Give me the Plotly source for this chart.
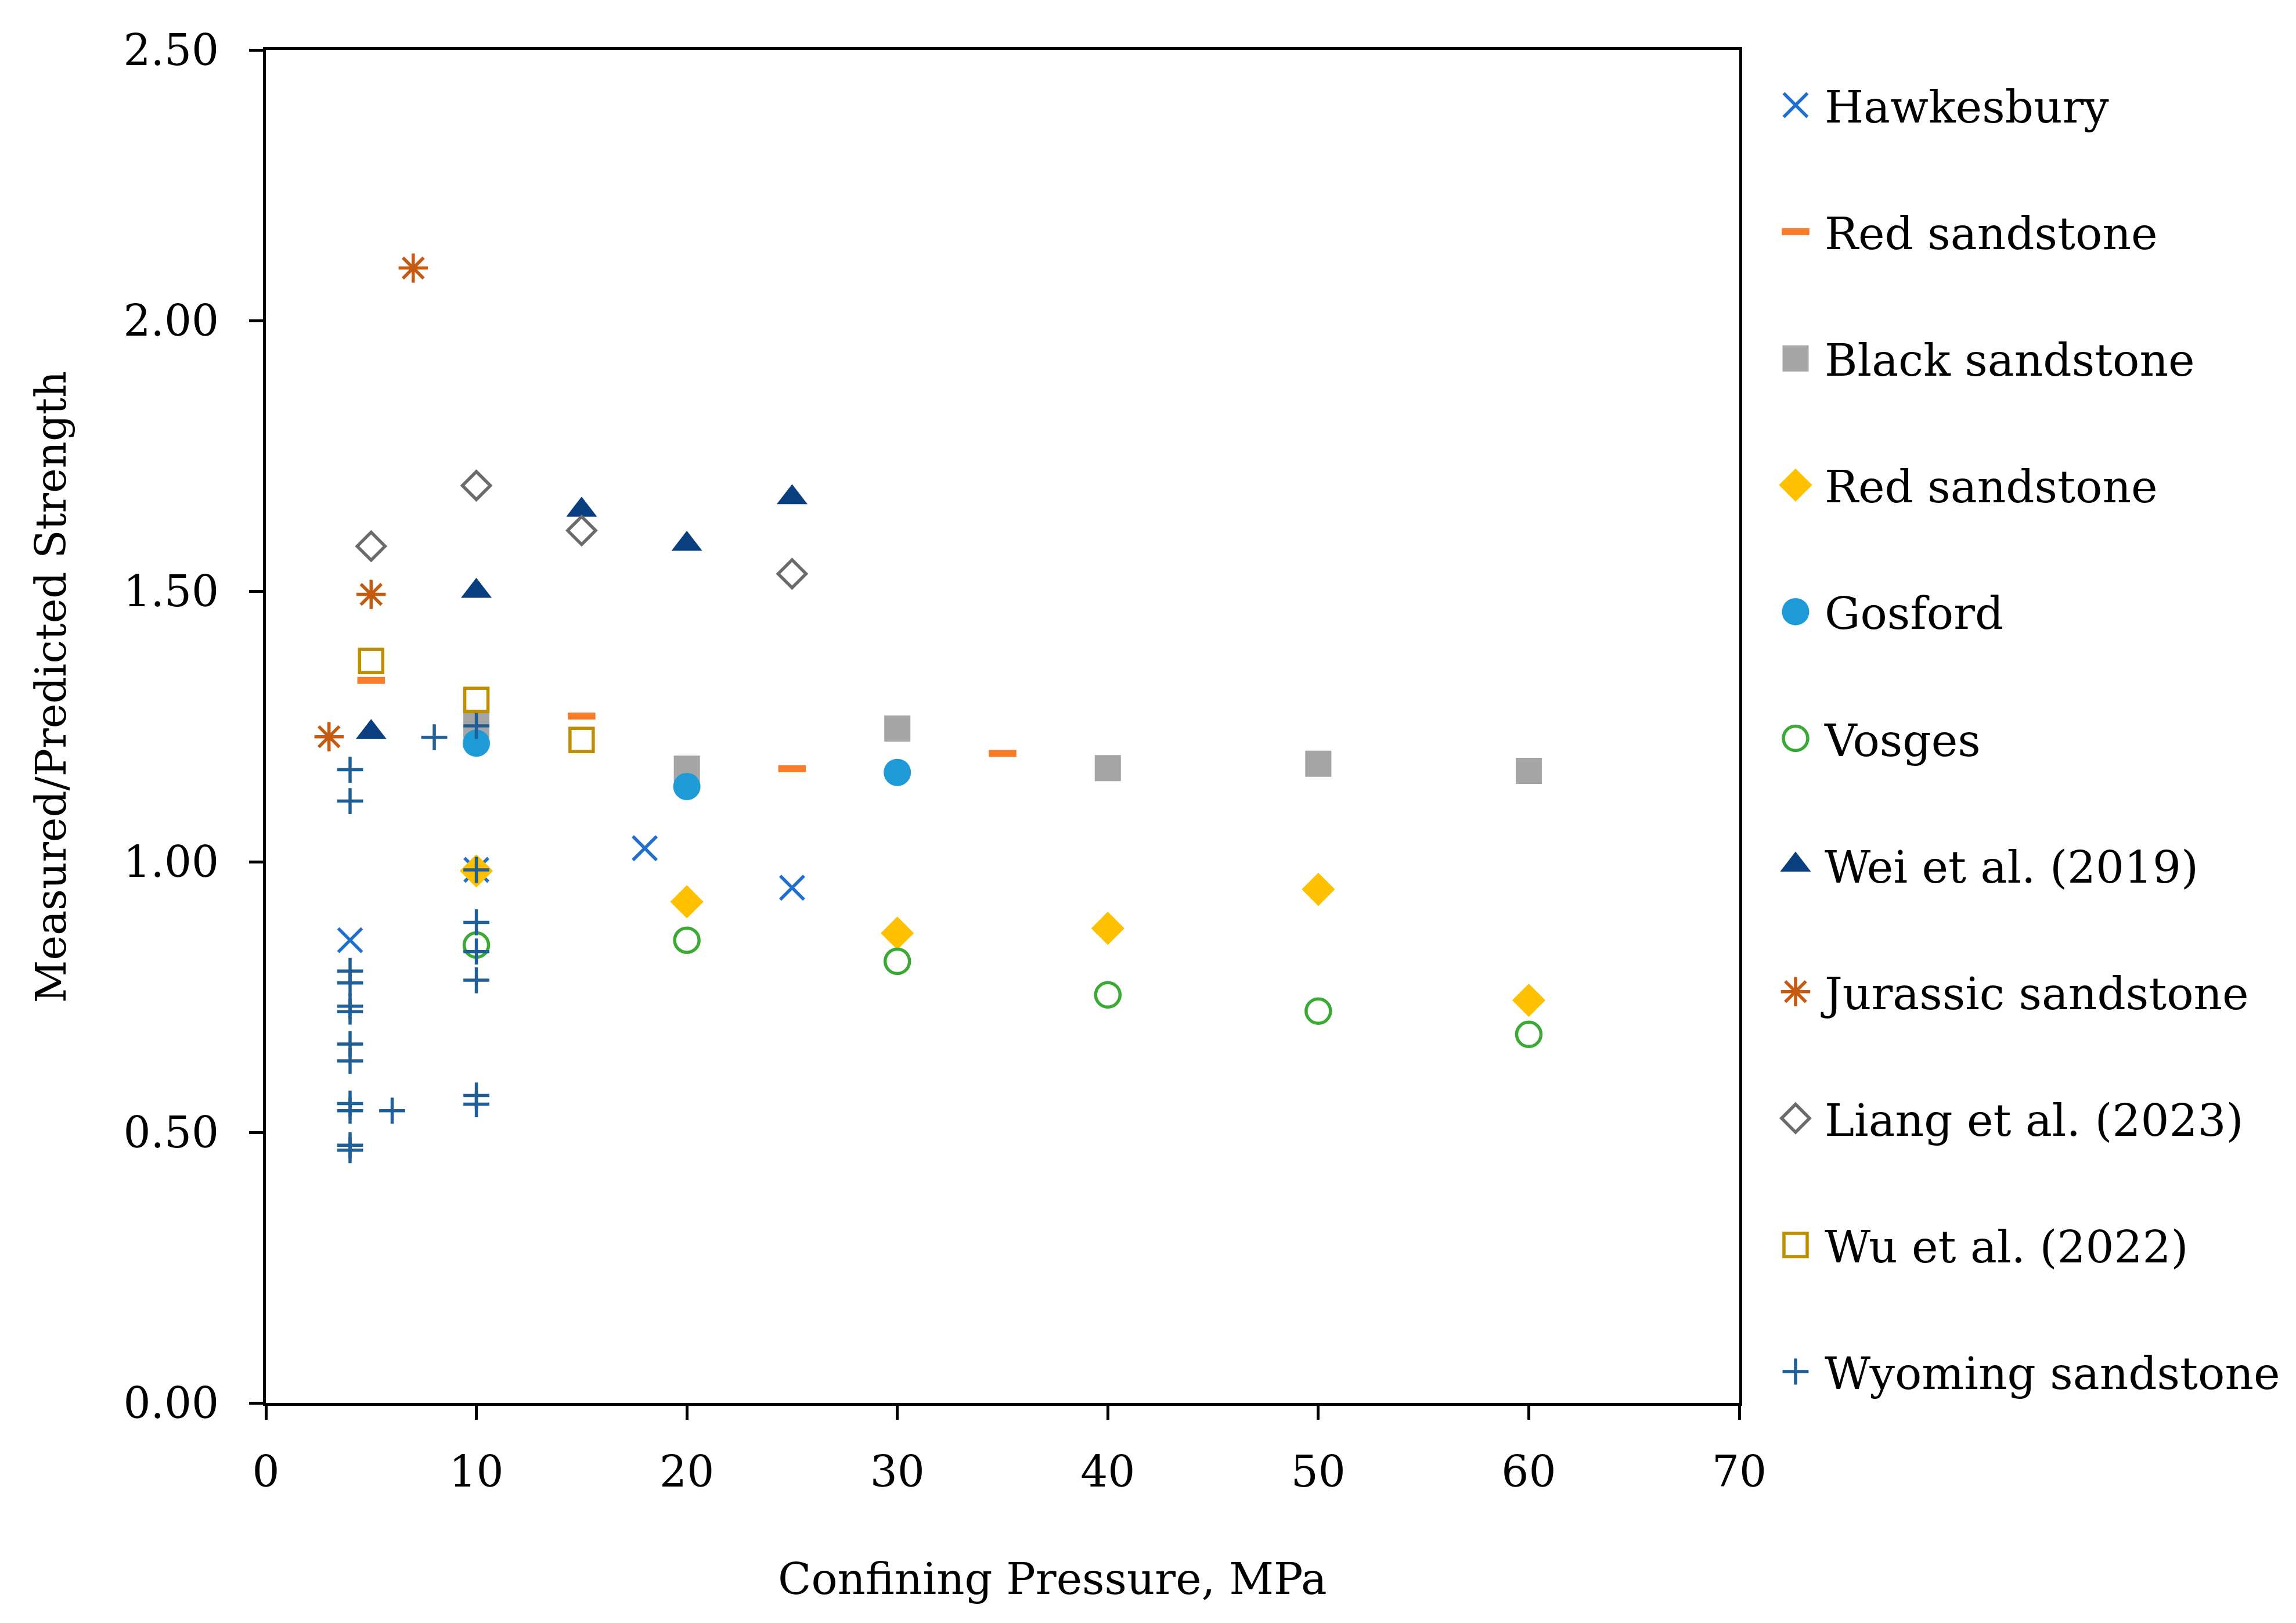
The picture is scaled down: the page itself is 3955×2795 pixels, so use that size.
import json
import plotly.graph_objects as go

# -------------------------------
# Data
# -------------------------------
hawk_x = [4, 10, 18, 25]
hawk_y = [0.855, 0.985, 1.025, 0.952]

red_x = [5, 15, 25, 35]
red_y = [1.335, 1.269, 1.172, 1.200]

black_x = [10, 20, 30, 40, 50, 60]
black_y = [1.253, 1.172, 1.246, 1.173, 1.181, 1.168]

red2_x = [10, 20, 30, 40, 50, 60]
red2_y = [0.983, 0.926, 0.868, 0.877, 0.949, 0.744]

gosford_x = [10, 20, 30]
gosford_y = [1.219, 1.139, 1.165]

vosges_x = [10, 20, 30, 40, 50, 60]
vosges_y = [0.846, 0.855, 0.816, 0.754, 0.724, 0.681]

wei_x = [5, 10, 15, 20, 25]
wei_y = [1.239, 1.500, 1.650, 1.587, 1.673]

jura_x = [3, 5, 7]
jura_y = [1.231, 1.494, 2.097]

liang_x = [5, 10, 15, 25]
liang_y = [1.583, 1.695, 1.612, 1.532]

wu_x = [5, 10, 15]
wu_y = [1.371, 1.299, 1.225]

wyo_x = [4, 4, 4, 4, 4, 4, 4, 4, 4, 4, 4, 4,
         6, 8,
         10, 10, 10, 10, 10, 10, 10]
wyo_y = [1.170, 1.112, 0.798, 0.776, 0.733, 0.723, 0.663, 0.632, 0.553, 0.540, 0.476, 0.467,
         0.540, 1.230,
         1.251, 0.985, 0.888, 0.834, 0.781, 0.568, 0.552]

x_title = "Confining Pressure, MPa"
y_title = "Measured/Predicted Strength"

# -------------------------------
# Series styles: name, x, y, symbol, colour, size, line width
# -------------------------------
series = [
    ("Hawkesbury", hawk_x, hawk_y, "x-thin-open", "#1f6fcf", 41, 5.5),
    ("Red sandstone", red_x, red_y, "line-ew-open", "#f97c2b", 34, 12),
    ("Black sandstone", black_x, black_y, "square", "#a5a5a5", 45, 0),
    ("Red sandstone ", red2_x, red2_y, "diamond", "#ffc000", 44, 0),
    ("Gosford", gosford_x, gosford_y, "circle", "#1e9bd7", 47, 0),
    ("Vosges", vosges_x, vosges_y, "circle-open", "#3aaa35", 42, 5.5),
    ("Wei et al. (2019)", wei_x, wei_y, "triangle-up", "#0a3f7f", 46, 0),
    ("Jurassic sandstone", jura_x, jura_y, "asterisk-open", "#c55a11", 42, 5.5),
    ("Liang et al. (2023)", liang_x, liang_y, "diamond-open", "#6b6b6b", 37, 5.5),
    ("Wu et al. (2022)", wu_x, wu_y, "square-open", "#bf8f00", 40, 5.5),
    ("Wyoming sandstone", wyo_x, wyo_y, "cross-thin-open", "#1f5f99", 32, 5.5),
]

fig = go.Figure()

for i, (name, xs, ys, sym, col, size, lw) in enumerate(series):
    fig.add_trace(go.Scatter(
        x=xs,
        y=ys,
        mode="markers",
        name=name,
        legendgroup="g%d" % i,
        marker=dict(symbol=sym, size=size, color=col,
                    line=dict(color=col, width=lw)),
    ))

font_family = "DejaVu Serif, serif"

fig.update_layout(
    width=3955,
    height=2795,
    paper_bgcolor="white",
    plot_bgcolor="white",
    margin=dict(l=450, r=967, t=78, b=387),
    font=dict(family=font_family, size=74, color="black"),
    showlegend=True,
    legend=dict(
        x=1.0185,
        y=0.9835,
        xanchor="left",
        yanchor="top",
        font=dict(size=77),
        tracegroupgap=115,
        itemwidth=90,
        traceorder="grouped",
        bgcolor="rgba(0,0,0,0)",
    ),
)

fig.update_xaxes(
    range=[0, 70],
    dtick=10,
    showline=True,
    linecolor="black",
    linewidth=5,
    mirror=True,
    ticks="outside",
    ticklen=24,
    tickwidth=5,
    tickcolor="black",
    showgrid=False,
    zeroline=False,
    ticklabelstandoff=26,
    tickfont=dict(size=74),
)

fig.update_yaxes(
    range=[0, 2.5],
    dtick=0.5,
    tickformat=".2f",
    showline=True,
    linecolor="black",
    linewidth=5,
    mirror=True,
    ticks="outside",
    ticklen=24,
    tickwidth=5,
    tickcolor="black",
    showgrid=False,
    zeroline=False,
    ticklabelstandoff=37,
    tickfont=dict(size=74),
)

# axis titles sit slightly off-centre in the reference, so use annotations
fig.add_annotation(
    text=x_title, xref="paper", yref="paper",
    x=0.534, y=-0.130, xanchor="center", yanchor="middle",
    showarrow=False, font=dict(size=75),
)
fig.add_annotation(
    text=y_title, xref="paper", yref="paper",
    x=-0.1455, y=0.529, xanchor="center", yanchor="middle",
    textangle=-90, showarrow=False, font=dict(size=72),
)

# plotly caps legend symbols at 16 px; scale them up to the plotted size
legend_sizes = [[s[5] / 16.0, s[6]] for s in series]
post = """
var gd = document.getElementById('{plot_id}');
var SC = %s;
function fixLegend() {
  var items = gd.querySelectorAll('.legend .traces');
  items.forEach(function(tr, i) {
    var s = SC[i];
    if (!s) return;
    tr.querySelectorAll('.legendpoints path').forEach(function(p) {
      var t = p.getAttribute('transform') || '';
      if (t.indexOf('scale') < 0) p.setAttribute('transform', t + ' scale(' + s[0] + ')');
      p.style.strokeWidth = (s[1] / s[0]) + 'px';
    });
  });
}
fixLegend();
gd.on('plotly_afterplot', fixLegend);
""" % json.dumps(legend_sizes)

fig.write_html("out.html", post_script=post)
